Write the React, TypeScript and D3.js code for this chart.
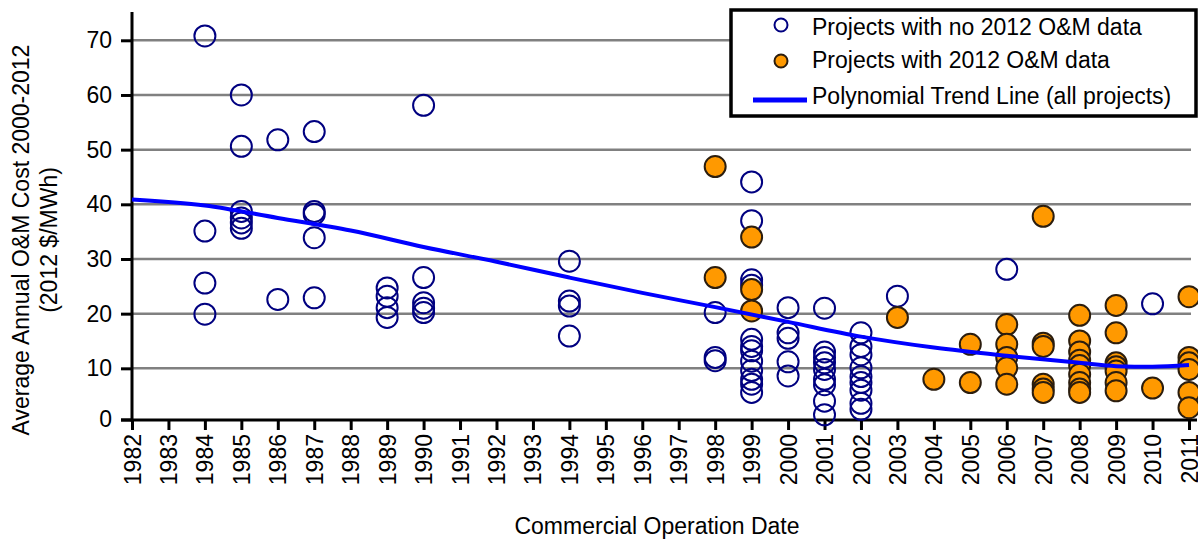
import React, { useRef, useEffect } from 'react';
import * as d3 from 'd3';

const WIDTH = 1198;
const HEIGHT = 540;

// tick labels
const years = d3.range(1982, 2012);
const yTicks = [0, 10, 20, 30, 40, 50, 60, 70];

// [commercial operation year, average annual O&M cost 2000-2012 (2012 $/MWh)]
const noDataPoints: [number, number][] = [
  [1984, 70.8], [1984, 35.1], [1984, 25.6], [1984, 19.9],
  [1985, 60.0], [1985, 50.6], [1985, 38.7], [1985, 37.5], [1985, 36.6], [1985, 35.6],
  [1986, 51.8], [1986, 22.6],
  [1987, 53.3], [1987, 38.7], [1987, 38.2], [1987, 33.9], [1987, 22.9],
  [1989, 24.7], [1989, 23.2], [1989, 21.1], [1989, 19.3],
  [1990, 58.1], [1990, 26.6], [1990, 22.0], [1990, 21.0], [1990, 20.2],
  [1994, 29.6], [1994, 22.3], [1994, 21.4], [1994, 15.9],
  [1998, 20.2], [1998, 12.0], [1998, 11.4],
  [1999, 44.1], [1999, 37.0], [1999, 26.2], [1999, 25.2], [1999, 15.3], [1999, 14.0],
  [1999, 13.2], [1999, 11.3], [1999, 9.6], [1999, 8.0], [1999, 7.1], [1999, 5.6],
  [2000, 21.1], [2000, 16.5], [2000, 15.5], [2000, 11.2], [2000, 8.6],
  [2001, 21.0], [2001, 13.0], [2001, 12.0], [2001, 11.0], [2001, 9.8], [2001, 8.0],
  [2001, 7.0], [2001, 4.0], [2001, 1.5],
  [2002, 16.5], [2002, 14.0], [2002, 12.5], [2002, 10.1], [2002, 8.5], [2002, 7.4],
  [2002, 6.0], [2002, 3.6], [2002, 2.5],
  [2003, 23.2],
  [2006, 28.1],
  [2010, 21.8],
];

const withDataPoints: [number, number][] = [
  [1998, 46.9], [1998, 26.6],
  [1999, 34.0], [1999, 24.4], [1999, 20.5],
  [2003, 19.3],
  [2004, 8.0],
  [2005, 14.4], [2005, 7.4],
  [2006, 18.0], [2006, 14.4], [2006, 12.0], [2006, 10.1], [2006, 7.1],
  [2007, 37.8], [2007, 14.6], [2007, 14.0], [2007, 7.1], [2007, 6.2], [2007, 5.6],
  [2008, 19.7], [2008, 15.0], [2008, 13.0], [2008, 11.5], [2008, 10.5], [2008, 8.9],
  [2008, 7.4], [2008, 6.2], [2008, 5.6],
  [2009, 21.5], [2009, 16.5], [2009, 11.0], [2009, 10.3], [2009, 9.5], [2009, 7.4], [2009, 5.9],
  [2010, 6.4],
  [2011, 23.1], [2011, 12.0], [2011, 11.0], [2011, 9.8], [2011, 5.6], [2011, 2.8],
];

const trendPoints: [number, number][] = [
  [1982, 40.9], [1984, 39.8], [1986, 37.5], [1988, 35.2], [1990, 32.2], [1992, 29.5],
  [1994, 26.6], [1996, 23.8], [1998, 21.2], [2000, 18.5], [2002, 15.8], [2004, 13.8],
  [2006, 12.3], [2008, 11.0], [2009, 10.4], [2010, 10.3], [2011, 10.6],
];

const legendLabels = [
  'Projects with no 2012 O&M data',
  'Projects with 2012 O&M data',
  'Polynomial Trend Line (all projects)',
];

const FONT = '"Liberation Sans", Arial, sans-serif';
const NAVY = '#000080';
const ORANGE = '#FF9900';
const ORANGE_EDGE = '#2b1d0e';
const BLUE = '#0000FF';
const GRID = '#808080';

export default function App(): React.ReactElement {
  const svgRef = useRef<SVGSVGElement>(null);

  useEffect(() => {
    if (!svgRef.current) return;
    const svg = d3.select(svgRef.current);
    svg.selectAll('*').remove();

    const x = d3.scaleLinear().domain([1982, 2011]).range([132, 1189]);
    const y = d3.scaleLinear().domain([0, 70]).range([423, 40.3]);
    const axisY = 420;

    // gridlines
    svg.append('g')
      .selectAll('line')
      .data(yTicks.filter((t) => t > 0))
      .join('line')
      .attr('x1', 132)
      .attr('x2', 1191)
      .attr('y1', (d) => y(d))
      .attr('y2', (d) => y(d))
      .attr('stroke', GRID)
      .attr('stroke-width', 2.5);

    // y axis
    const yAxis = svg.append('g')
      .attr('transform', 'translate(132,0)')
      .call(d3.axisLeft(y).tickValues(yTicks).tickSize(11).tickPadding(9));
    yAxis.select('.domain').remove();
    yAxis.selectAll('.tick line').attr('stroke', '#000').attr('stroke-width', 3);
    yAxis.selectAll('.tick').filter((d) => d === 0).attr('transform', `translate(0,${axisY})`);
    yAxis.selectAll('text')
      .attr('font-family', FONT)
      .attr('font-size', '23px')
      .attr('fill', '#000');

    svg.append('line')
      .attr('x1', 132).attr('x2', 132)
      .attr('y1', 12).attr('y2', axisY + 1.5)
      .attr('stroke', '#000').attr('stroke-width', 3);

    // x axis
    const xAxis = svg.append('g')
      .attr('transform', `translate(0,${axisY})`)
      .call(d3.axisBottom(x).tickValues(years).tickSize(10).tickFormat((d) => String(d)));
    xAxis.select('.domain').remove();
    xAxis.selectAll('.tick line').attr('stroke', '#000').attr('stroke-width', 3);
    xAxis.selectAll('text')
      .attr('font-family', FONT)
      .attr('font-size', '23px')
      .attr('fill', '#000')
      .attr('text-anchor', 'end')
      .attr('transform', 'rotate(-90)')
      .attr('x', -14)
      .attr('y', 0)
      .attr('dy', '0.35em');

    svg.append('line')
      .attr('x1', 121).attr('x2', 1197)
      .attr('y1', axisY).attr('y2', axisY)
      .attr('stroke', '#000').attr('stroke-width', 3);

    // projects with no 2012 data
    svg.append('g')
      .selectAll('circle')
      .data(noDataPoints)
      .join('circle')
      .attr('cx', (d) => x(d[0]))
      .attr('cy', (d) => y(d[1]))
      .attr('r', 10.5)
      .attr('fill', 'none')
      .attr('stroke', NAVY)
      .attr('stroke-width', 2);

    // projects with 2012 data
    svg.append('g')
      .selectAll('circle')
      .data(withDataPoints)
      .join('circle')
      .attr('cx', (d) => x(d[0]))
      .attr('cy', (d) => y(d[1]))
      .attr('r', 10.5)
      .attr('fill', ORANGE)
      .attr('stroke', ORANGE_EDGE)
      .attr('stroke-width', 2);

    // trend line
    const line = d3.line<[number, number]>()
      .x((d) => x(d[0]))
      .y((d) => y(d[1]))
      .curve(d3.curveMonotoneX);
    svg.append('path')
      .attr('d', line(trendPoints))
      .attr('fill', 'none')
      .attr('stroke', BLUE)
      .attr('stroke-width', 4);

    // axis titles
    const yTitle = svg.append('g')
      .attr('transform', 'translate(0,240) rotate(-90)')
      .attr('font-family', FONT)
      .attr('font-size', '23px')
      .attr('text-anchor', 'middle')
      .attr('fill', '#000');
    yTitle.append('text').attr('x', 0).attr('y', 29).text('Average Annual O&M Cost 2000-2012');
    yTitle.append('text').attr('x', 0).attr('y', 57).text('(2012 $/MWh)');

    svg.append('text')
      .attr('x', 657)
      .attr('y', 534)
      .attr('text-anchor', 'middle')
      .attr('font-family', FONT)
      .attr('font-size', '23px')
      .attr('fill', '#000')
      .text('Commercial Operation Date');

    // legend
    const legend = svg.append('g');
    legend.append('rect')
      .attr('x', 731).attr('y', 10)
      .attr('width', 465).attr('height', 106)
      .attr('fill', '#fff')
      .attr('stroke', '#000')
      .attr('stroke-width', 3.5);
    legend.append('circle')
      .attr('cx', 781).attr('cy', 25).attr('r', 6.5)
      .attr('fill', 'none').attr('stroke', NAVY).attr('stroke-width', 2);
    legend.append('circle')
      .attr('cx', 781).attr('cy', 61).attr('r', 6.5)
      .attr('fill', ORANGE).attr('stroke', ORANGE_EDGE).attr('stroke-width', 2);
    legend.append('line')
      .attr('x1', 753).attr('x2', 807)
      .attr('y1', 100).attr('y2', 100)
      .attr('stroke', BLUE).attr('stroke-width', 5);
    legend.selectAll('text')
      .data(legendLabels)
      .join('text')
      .attr('x', 812)
      .attr('y', (_, i) => [35, 68, 104][i])
      .attr('font-family', FONT)
      .attr('font-size', '23px')
      .attr('fill', '#000')
      .text((d) => d);
  }, []);

  return (
    <svg
      ref={svgRef}
      width={WIDTH}
      height={HEIGHT}
      style={{ position: 'absolute', left: 0, top: 0, background: '#fff' }}
    />
  );
}
